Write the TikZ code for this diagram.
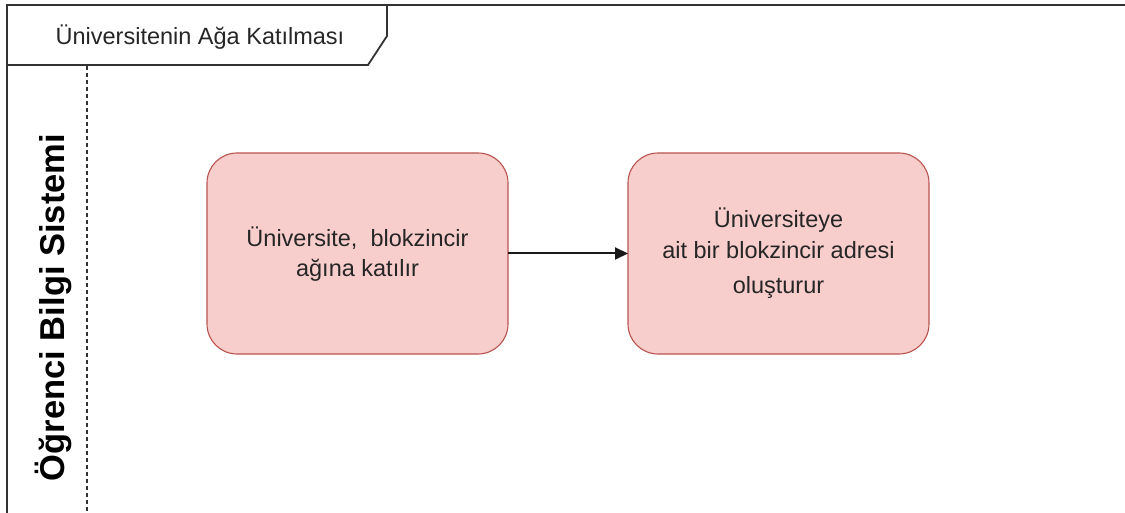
\documentclass[tikz,border=0pt]{standalone}
\usepackage{fontspec}
\setmainfont{Liberation Sans}
\usetikzlibrary{arrows.meta}
\definecolor{taskfill}{HTML}{F8CECC}
\definecolor{taskline}{HTML}{B85450}
\definecolor{frameline}{HTML}{333333}
\begin{document}
\begin{tikzpicture}[x=1pt,y=-1pt,
  frame/.style={draw=frameline,line width=1.8pt},
  task/.style={draw=taskline,fill=taskfill,line width=1.1pt,rounded corners=30pt},
  tasktext/.style={font=\fontsize{23.5}{28}\selectfont,text=black!85,align=center,inner sep=0pt},
  flow/.style={draw=black!90,line width=2pt,-{Triangle[length=13pt,width=12pt]}}]
  \useasboundingbox (0,0) rectangle (1125,513);
  % pool frame and its tab
  \draw[frame] (7,513) -- (7,5) -- (1130,5);
  \draw[frame] (387,5) -- (387,36) -- (368,65) -- (7,65);
  \node[font=\fontsize{23.5}{28}\selectfont,text=black!85] (title) at (200,37) {Üniversitenin Ağa Katılması};
  % lane separator
  \draw[draw=frameline,line width=1.3pt,dash pattern=on 4pt off 3pt] (87,66) -- (87,513);
  \node[rotate=90,font=\bfseries\fontsize{34.5}{40}\selectfont] (lane) at (53,307.5) {Öğrenci Bilgi Sistemi};
  % tasks
  \path[task] (207,153) rectangle (508,354);
  \node[tasktext] at (357.5,238) {Üniversite,\ \ blokzincir};
  \node[tasktext] at (357.5,270) {ağına katılır};
  \path[task] (628,153) rectangle (929,354);
  \node[tasktext] at (778.5,220) {Üniversiteye};
  \node[tasktext] at (778.5,250) {ait bir blokzincir adresi};
  \node[tasktext] at (778.5,287) {oluşturur};
  % flow between the two tasks
  \coordinate (aE) at (508,253.5);
  \coordinate (bW) at (628,253.5);
  \draw[flow] (aE) -- (bW);
\end{tikzpicture}
\end{document}
